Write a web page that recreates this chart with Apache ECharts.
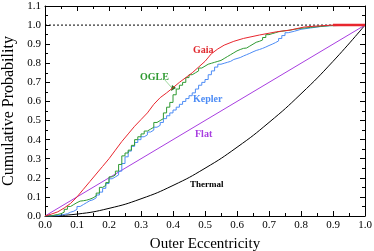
<!DOCTYPE html>
<html><head><meta charset="utf-8">
<script src="https://cdn.jsdelivr.net/npm/echarts@6/dist/echarts.min.js"></script>
<style>html,body{margin:0;padding:0;background:#fff}#c{width:374px;height:251px}</style>
</head><body><div id="c"></div>
<script>
var gaia = [[0,0],[0.02,0.01],[0.04,0.022],[0.06,0.042],[0.08,0.066],[0.10,0.10],[0.12,0.14],[0.14,0.18],[0.16,0.22],[0.18,0.26],[0.20,0.30],[0.22,0.345],[0.24,0.39],[0.26,0.43],[0.28,0.47],[0.30,0.505],[0.32,0.54],[0.34,0.585],[0.36,0.62],[0.38,0.645],[0.40,0.672],[0.42,0.70],[0.44,0.725],[0.46,0.75],[0.48,0.78],[0.50,0.81],[0.52,0.85],[0.54,0.875],[0.56,0.895],[0.59,0.915],[0.62,0.93],[0.67,0.948],[0.724,0.965],[0.766,0.974],[0.81,0.99],[0.85,0.995],[0.90,1.0],[1.0,1.0]];
var gaiaTail = [[0.9,1.0],[1.0,1.0]];
var ogle = [[0,0],[0.01,0],[0.02,0.005],[0.03,0.008],[0.04,0.012],[0.05,0.02],[0.06,0.035],[0.07,0.05],[0.08,0.06],[0.09,0.07],[0.10,0.078],[0.11,0.08],[0.12,0.083],[0.13,0.088],[0.14,0.095],[0.15,0.105],[0.16,0.12],[0.17,0.15],[0.18,0.16],[0.19,0.175],[0.20,0.205],[0.21,0.215],[0.22,0.235],[0.23,0.27],[0.24,0.315],[0.25,0.33],[0.26,0.345],[0.27,0.37],[0.28,0.40],[0.29,0.415],[0.30,0.43],[0.31,0.445],[0.32,0.455],[0.33,0.465],[0.34,0.49],[0.35,0.50],[0.36,0.51],[0.37,0.54],[0.38,0.57],[0.39,0.595],[0.40,0.635],[0.41,0.665],[0.42,0.685],[0.43,0.70],[0.44,0.725],[0.45,0.74],[0.46,0.75],[0.47,0.76],[0.48,0.775],[0.49,0.785],[0.50,0.795],[0.51,0.80],[0.52,0.805],[0.53,0.81],[0.54,0.815],[0.55,0.825],[0.56,0.835],[0.57,0.845],[0.58,0.855],[0.59,0.865],[0.60,0.872],[0.61,0.878],[0.62,0.88],[0.63,0.89],[0.64,0.90],[0.65,0.91],[0.66,0.915],[0.67,0.922],[0.68,0.935],[0.69,0.95],[0.70,0.955],[0.71,0.96],[0.72,0.965],[0.73,0.968],[0.74,0.972],[0.76,0.978],[0.78,0.983],[0.80,0.988],[0.83,0.993],[0.86,0.997],[0.89,1.0],[1.0,1.0]];
var kepler = [[0,0],[0.02,0.002],[0.04,0.005],[0.05,0.008],[0.06,0.012],[0.07,0.02],[0.08,0.025],[0.09,0.035],[0.10,0.05],[0.11,0.06],[0.12,0.07],[0.13,0.08],[0.14,0.085],[0.15,0.095],[0.16,0.11],[0.17,0.125],[0.18,0.145],[0.19,0.17],[0.20,0.195],[0.21,0.205],[0.22,0.215],[0.23,0.235],[0.24,0.275],[0.25,0.31],[0.26,0.34],[0.27,0.365],[0.28,0.385],[0.29,0.40],[0.30,0.415],[0.31,0.425],[0.32,0.44],[0.33,0.45],[0.34,0.465],[0.35,0.475],[0.36,0.49],[0.37,0.51],[0.38,0.525],[0.39,0.54],[0.40,0.555],[0.41,0.57],[0.42,0.585],[0.43,0.60],[0.44,0.615],[0.45,0.63],[0.46,0.645],[0.47,0.665],[0.48,0.685],[0.49,0.70],[0.50,0.715],[0.51,0.74],[0.52,0.76],[0.53,0.78],[0.54,0.795],[0.55,0.80],[0.56,0.805],[0.57,0.81],[0.58,0.82],[0.59,0.825],[0.60,0.83],[0.61,0.838],[0.62,0.845],[0.63,0.852],[0.64,0.86],[0.65,0.867],[0.66,0.872],[0.67,0.878],[0.68,0.885],[0.69,0.893],[0.70,0.90],[0.71,0.908],[0.72,0.917],[0.73,0.93],[0.74,0.945],[0.75,0.96],[0.76,0.968],[0.78,0.978],[0.80,0.985],[0.83,0.992],[0.86,0.997],[0.89,1.0],[1.0,1.0]];
var flat = [[0,0],[1,1]];
var thermal = [[0,0],[0.1,0.01],[0.2,0.04],[0.3,0.09],[0.4,0.16],[0.5,0.25],[0.6,0.36],[0.7,0.49],[0.8,0.64],[0.9,0.81],[1.0,1.0]];
var unity = [[0,1],[1,1]];
var xTicks = [0,0.1,0.2,0.3,0.4,0.5,0.6,0.7,0.8,0.9,1.0];
var yTicks = [0,0.1,0.2,0.3,0.4,0.5,0.6,0.7,0.8,0.9,1.0,1.1];

var SERIF = "'Liberation Serif','Times New Roman',serif";
var chart = echarts.init(document.getElementById('c'), null, {renderer:'canvas'});
function ax(show){
  return {
    axisLine:{show:true,onZero:false,lineStyle:{color:'#000',width:1}},
    axisTick:{show:true,inside:true,length:5,lineStyle:{color:'#000'}},
    minorTick:{show:true,splitNumber:2,length:3,lineStyle:{color:'#000'}},
    splitLine:{show:false},
    axisLabel:{show:show,color:'#000',fontFamily:SERIF,fontSize:11,formatter:function(v){return v.toFixed(1);}}
  };
}
var xb = Object.assign(ax(true),{type:'value',min:xTicks[0],max:xTicks[xTicks.length-1],interval:0.1,position:'bottom',
  name:'Outer Eccentricity',nameLocation:'middle',nameGap:21,nameTextStyle:{fontFamily:SERIF,fontSize:15,color:'#000'}});
xb.axisLabel.margin=4;
var xt = Object.assign(ax(false),{type:'value',min:0,max:1,interval:0.1,position:'top'});
var yl = Object.assign(ax(true),{type:'value',min:yTicks[0],max:yTicks[yTicks.length-1],interval:0.1,position:'left',
  name:'Cumulative Probability',nameLocation:'middle',nameGap:28,nameTextStyle:{fontFamily:SERIF,fontSize:16,color:'#000'}});
yl.axisLabel.margin=4;
var yr = Object.assign(ax(false),{type:'value',min:0,max:1.1,interval:0.1,position:'right'});

function ln(data,color,w,extra){
  return Object.assign({type:'line',data:data,showSymbol:false,symbol:'none',animation:false,
    lineStyle:{color:color,width:w},xAxisIndex:0,yAxisIndex:0,z:3},extra||{});
}
chart.setOption({
  animation:false,
  grid:{left:45,right:9,top:6,bottom:35,containLabel:false,outerBoundsMode:'none'},
  xAxis:[xb,xt],
  yAxis:[yl,yr],
  series:[
    ln(unity,'#000',1,{lineStyle:{color:'#000',width:1,type:[2,2]}}),
    ln(thermal,'#000',1,{smooth:true}),
    ln(flat,'#a83ee0',1),
    ln(kepler,'#4d8cf5',1,{step:'end'}),
    ln(ogle,'#2f9a32',1,{step:'end'}),
    ln(gaia,'#e8262e',1),
    ln(gaiaTail,'#e8262e',2.5)
  ],
  graphic:[
    {type:'text',left:193,top:45,style:{text:'Gaia',fill:'#e0282e',font:'bold 10px '+SERIF}},
    {type:'text',left:140,top:72,style:{text:'OGLE',fill:'#2f9a32',font:'bold 10px '+SERIF}},
    {type:'line',shape:{x1:164,y1:79,x2:172,y2:88},style:{stroke:'#9fd89f',lineWidth:1}},
    {type:'polygon',shape:{points:[[171,91],[176,88],[172,85]]},style:{fill:'#1f7a22'}},
    {type:'text',left:193,top:94,style:{text:'Kepler',fill:'#4d8cf5',font:'bold 10px '+SERIF}},
    {type:'text',left:195,top:129,style:{text:'Flat',fill:'#a83ee0',font:'bold 10px '+SERIF}},
    {type:'text',left:190,top:180,style:{text:'Thermal',fill:'#000',font:'bold 9px '+SERIF}}
  ]
});
</script></body></html>
